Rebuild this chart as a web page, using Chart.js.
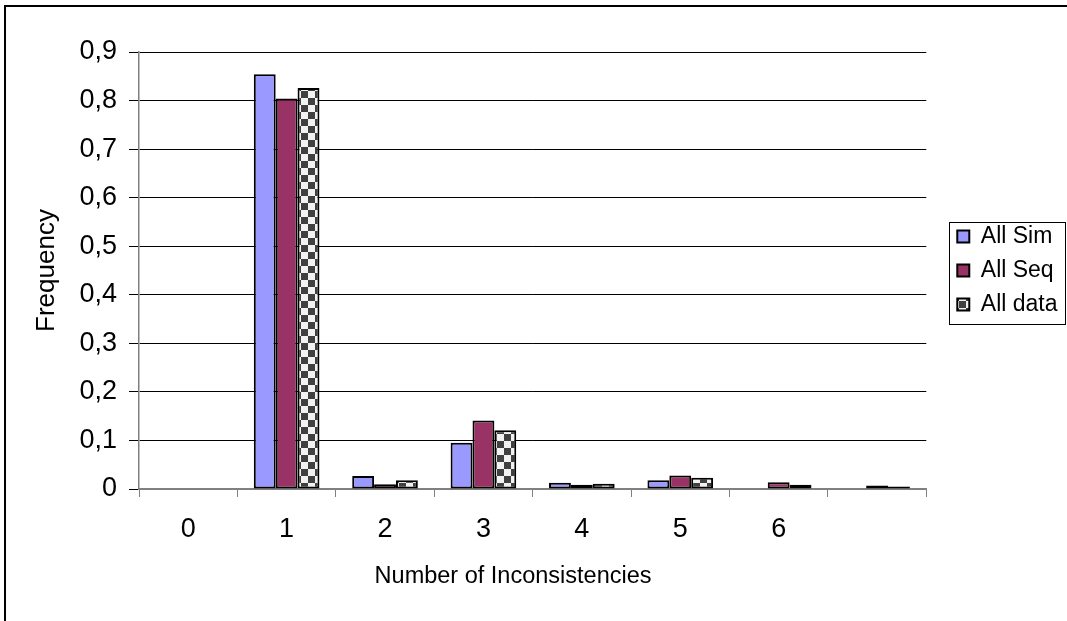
<!DOCTYPE html>
<html>
<head>
<meta charset="utf-8">
<script src="https://cdn.jsdelivr.net/npm/chart.js@4.4.1/dist/chart.umd.min.js"></script>
<style>
  html, body { margin: 0; padding: 0; background: #ffffff; }
  #wrap { width: 1067px; height: 621px; }
</style>
</head>
<body>
<div id="wrap"><canvas id="chart" width="1067" height="621"></canvas></div>
<script>
// Frequency of inconsistency counts per data set
const categories = ['0', '1', '2', '3', '4', '5', '6', ''];
const allSim  = [0, 0.854, 0.027, 0.095, 0.013, 0.018, 0, 0];
const allSeq  = [0, 0.804, 0.010, 0.141, 0.009, 0.028, 0.014, 0.007];
const allData = [0, 0.826, 0.018, 0.121, 0.011, 0.023, 0.009, 0.005];
const yTickLabels = ['0', '0,1', '0,2', '0,3', '0,4', '0,5', '0,6', '0,7', '0,8', '0,9'];

// checkerboard fill for the combined series
function checkerPattern() {
  const c = document.createElement('canvas');
  c.width = 14; c.height = 14;
  const g = c.getContext('2d');
  g.fillStyle = '#f2f2f2';
  g.fillRect(0, 0, 14, 14);
  g.fillStyle = '#404040';
  g.fillRect(0, 0, 7, 7);
  g.fillRect(7, 7, 7, 7);
  return g.createPattern(c, 'repeat');
}

Chart.defaults.font.family = '"Liberation Sans", Arial, sans-serif';
Chart.defaults.color = '#000000';

// chart frame and legend box outlines
const framePlugin = {
  id: 'frame',
  beforeDraw(chart) {
    const ctx = chart.ctx;
    ctx.save();
    ctx.fillStyle = '#ffffff';
    ctx.fillRect(0, 0, chart.width, chart.height);
    ctx.restore();
  },
  afterDraw(chart) {
    const ctx = chart.ctx;
    ctx.save();
    ctx.strokeStyle = '#000000';
    ctx.lineWidth = 2;
    ctx.strokeRect(5, 6, chart.width + 50, chart.height + 50);
    const lg = chart.legend;
    if (lg && lg.legendHitBoxes && lg.legendHitBoxes.length) {
      const hb = lg.legendHitBoxes;
      const first = hb[0], last = hb[hb.length - 1];
      const x0 = Math.round(first.left - 8) + 0.5;
      const x1 = Math.round(chart.width - 2) + 0.5;
      const y0 = Math.round(first.top - 3) + 0.5;
      const y1 = Math.round(last.top + last.height + 8) + 0.5;
      ctx.lineWidth = 1;
      ctx.strokeRect(x0, y0, x1 - x0, y1 - y0);
    }
    ctx.restore();
  }
};

// x axis title, padded at the end so it sits a little left of the plot centre
const xTitle = 'Number of Inconsistencies' + '      ';

const pattern = checkerPattern();

new Chart(document.getElementById('chart'), {
  type: 'bar',
  data: {
    labels: categories,
    datasets: [
      { label: 'All Sim',  data: allSim,  backgroundColor: '#9999ff', borderColor: '#000000', borderWidth: 2 },
      { label: 'All Seq',  data: allSeq,  backgroundColor: '#993366', borderColor: '#000000', borderWidth: 2 },
      { label: 'All data', data: allData, backgroundColor: pattern,   borderColor: '#000000', borderWidth: 2 }
    ]
  },
  options: {
    responsive: false,
    animation: false,
    devicePixelRatio: 1,
    layout: { padding: { left: 0, top: 52, right: -0.5, bottom: 0 } },
    datasets: { bar: { categoryPercentage: 0.667, barPercentage: 1.0, borderSkipped: false } },
    plugins: {
      tooltip: { enabled: false },
      legend: {
        position: 'right',
        fullSize: false,
        labels: {
          boxWidth: 12,
          boxHeight: 12,
          padding: 11,
          font: { size: 23 },
          color: '#000000'
        }
      }
    },
    scales: {
      x: {
        offset: true,
        grid: {
          offset: true,
          drawOnChartArea: false,
          drawTicks: true,
          tickLength: 8,
          color: '#808080',
          lineWidth: 1
        },
        border: { display: true, color: '#808080', width: 1.5 },
        ticks: { font: { size: 27 }, color: '#000000', padding: 16, maxRotation: 0, autoSkip: false },
        title: {
          display: true,
          text: xTitle,
          font: { size: 23.5 },
          color: '#000000',
          padding: { top: 0, bottom: 30 }
        },
        afterFit(scale) { scale.height = 132; }
      },
      y: {
        min: 0,
        max: 0.9,
        ticks: {
          stepSize: 0.1,
          font: { size: 27 },
          color: '#000000',
          padding: 12,
          callback: (value, index) => yTickLabels[index]
        },
        grid: {
          color: (c) => (c.tick && c.tick.value === 0 ? '#808080' : '#000000'),
          lineWidth: 1,
          tickLength: 10,
          tickColor: '#000000'
        },
        border: { display: true, color: '#808080', width: 1.5 },
        title: {
          display: true,
          text: 'Frequency',
          font: { size: 26 },
          color: '#000000',
          padding: { top: 31.5, bottom: 0 }
        },
        afterFit(scale) { scale.width = 139; }
      },
      gap: {
        type: 'linear',
        position: 'right',
        display: true,
        grid: { display: false, drawTicks: false },
        border: { display: false },
        ticks: { display: false },
        afterFit(scale) { scale.width = 20; }
      }
    }
  },
  plugins: [framePlugin]
});
</script>
</body>
</html>
